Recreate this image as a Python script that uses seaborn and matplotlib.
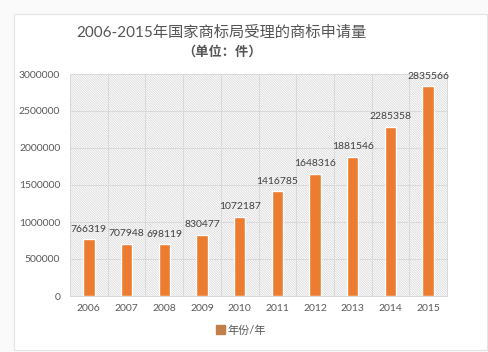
import matplotlib
matplotlib.use("Agg")
import matplotlib.pyplot as plt
import seaborn as sns
import pandas as pd
from matplotlib.patches import Rectangle

years = ["2006", "2007", "2008", "2009", "2010", "2011", "2012", "2013", "2014", "2015"]
applications = [766319, 707948, 698119, 830477, 1072187, 1416785, 1648316, 1881546, 2285358, 2835566]
yticks = [0, 500000, 1000000, 1500000, 2000000, 2500000, 3000000]

df = pd.DataFrame({"year": years, "count": applications})

sns.set_style("white")
plt.rcParams["font.family"] = ["Lato", "Noto Sans CJK SC", "DejaVu Sans"]
plt.rcParams["hatch.linewidth"] = 0.5

BAR = "#ec7c30"
TXT = "#595959"

fig = plt.figure(figsize=(4.88, 3.52), dpi=100)
fig.patch.set_facecolor("#fafafa")
fig.patches.append(Rectangle((14 / 488, 0.005), 473 / 488, 1 - 14 / 352 - 0.005,
                             transform=fig.transFigure, facecolor="white",
                             edgecolor="#e4e4e4", lw=0.8, zorder=-5))
ax = fig.add_axes([70 / 488, 56 / 352, 377 / 488, 222 / 352])
ax.set_facecolor("white")
# diagonal hatched plot-area background
ax.add_patch(Rectangle((0, 0), 1, 1, transform=ax.transAxes, facecolor="white",
                       edgecolor="#d4d4d4", hatch="\\" * 14, lw=0, zorder=0))

sns.barplot(data=df, x="year", y="count", color=BAR, width=0.3, saturation=1,
            ax=ax, zorder=3, label="年份/年")

ax.set_ylim(0, 3000000)
ax.set_xlim(-0.5, len(years) - 0.5)
ax.set_yticks(yticks)
ax.set_yticklabels([str(v) for v in yticks])
ax.set_xticks(range(len(years)), minor=False)
ax.set_xticks([i - 0.5 for i in range(len(years) + 1)], minor=True)
ax.grid(axis="y", which="major", color="#d9d9d9", lw=0.7, zorder=1)
ax.grid(axis="x", which="minor", color="#d9d9d9", lw=0.7, zorder=1)
ax.grid(axis="x", which="major", visible=False)
ax.set_axisbelow(True)
ax.tick_params(axis="both", which="both", length=0, labelsize=7.5, colors=TXT)
ax.tick_params(axis="y", pad=7)
ax.tick_params(axis="x", pad=6)
ax.set_xlabel("")
ax.set_ylabel("")
for s in ax.spines.values():
    s.set_color("#d9d9d9")
    s.set_linewidth(0.7)

ax.bar_label(ax.containers[0], labels=[str(v) for v in applications],
             padding=4, fontsize=7.5, color="#404040", clip_on=False)

fig.text(221 / 488, 1 - 33 / 352, "2006-2015年国家商标局受理的商标申请量",
         ha="center", va="center", fontsize=11, color="#555555")
fig.text(222 / 488, 1 - 51 / 352, "（单位：件）", ha="center", va="center",
         fontsize=9.5, color="#555555", fontweight="bold")

leg = ax.legend(loc="center", bbox_to_anchor=(241 / 488, 1 - 330 / 352),
                bbox_transform=fig.transFigure, frameon=False, fontsize=8,
                handlelength=0.8, handleheight=0.8, handletextpad=0.3)
for t in leg.get_texts():
    t.set_color(TXT)
for h in leg.legend_handles:
    h.set_color("#c0804a")

fig.savefig("out.png", dpi=100)
